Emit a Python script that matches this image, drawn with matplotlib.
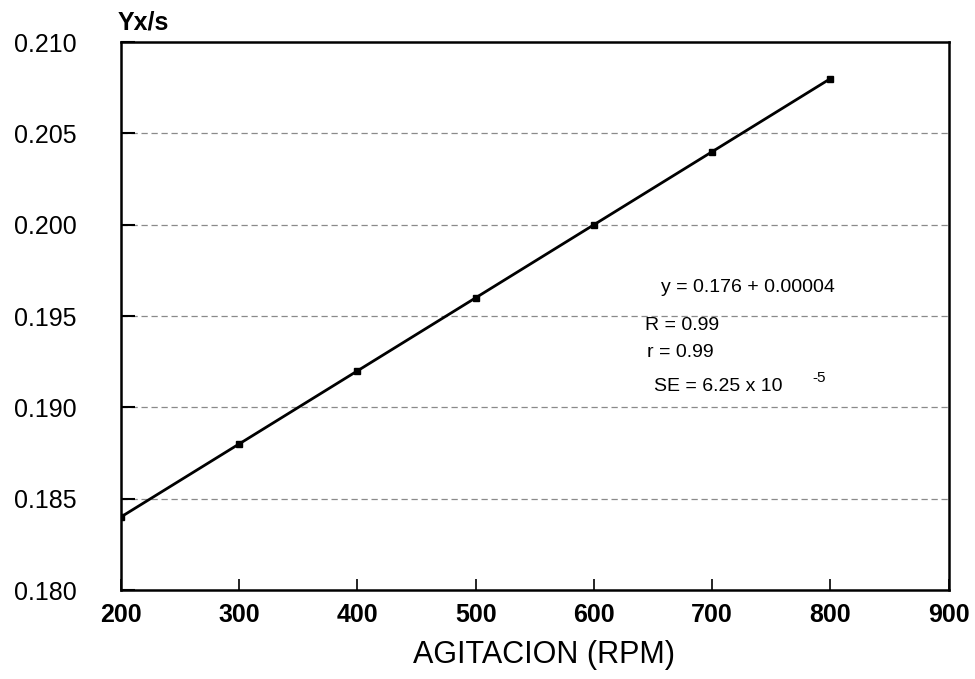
import matplotlib
matplotlib.use("Agg")
import matplotlib.pyplot as plt
import numpy as np

# datos
agitacion = [200, 300, 400, 500, 600, 700, 800]
yxs = [0.184, 0.188, 0.192, 0.196, 0.200, 0.204, 0.208]
x_ticks = [200, 300, 400, 500, 600, 700, 800, 900]
y_ticks = [0.180, 0.185, 0.190, 0.195, 0.200, 0.205, 0.210]


def main():
    plt.rcParams['font.family'] = ['Liberation Sans', 'DejaVu Sans']

    fig = plt.figure(figsize=(9.75, 6.79), dpi=100)
    ax = fig.add_axes([0.124, 0.131, 0.849, 0.807])

    # lineas de la cuadricula (punteadas, grises)
    for yv in y_ticks[1:-1]:
        ax.axhline(yv, color='#8a8a8a', lw=0.9, ls=(0, (5, 3)), zorder=1)

    ax.plot(agitacion, yxs, '-', color='black', lw=2.0, zorder=3)
    ax.plot(agitacion, yxs, 's', color='black', ms=4, zorder=4)

    ax.set_xlim(200, 900)
    ax.set_ylim(0.180, 0.210)
    ax.set_xticks(x_ticks)
    ax.set_yticks(y_ticks)
    ax.set_xticklabels([str(v) for v in x_ticks], fontsize=18, fontweight='bold')
    ax.set_yticklabels([f'{v:.3f}' for v in y_ticks], fontsize=18)

    ax.tick_params(axis='y', direction='in', length=10, width=1.5, pad=32)
    ax.tick_params(axis='x', direction='in', length=8, width=1.2, pad=9)
    for s in ax.spines.values():
        s.set_linewidth(1.8)

    ax.set_xlabel('AGITACION (RPM)', fontsize=22, va='center')
    ax.xaxis.set_label_coords((544 - 121) / 828, -(655 - 590) / 548)

    ax.text(-0.004, 1.036, 'Yx/s', transform=ax.transAxes, fontsize=18,
            fontweight='bold', ha='left', va='center')

    # ecuacion de ajuste
    ax.text(657, 0.19659, 'y = 0.176 + 0.00004', fontsize=14, ha='left', va='center')
    ax.text(643, 0.19451, 'R = 0.99', fontsize=14, ha='left', va='center')
    ax.text(645, 0.19303, 'r = 0.99', fontsize=14, ha='left', va='center')
    ax.text(651, 0.19117, 'SE = 6.25 x 10', fontsize=14, ha='left', va='center')
    ax.text(785, 0.19161, '-5', fontsize=11, ha='left', va='center')

    fig.savefig('out.png', dpi=100)
    plt.close(fig)


if __name__ == "__main__":
    main()
